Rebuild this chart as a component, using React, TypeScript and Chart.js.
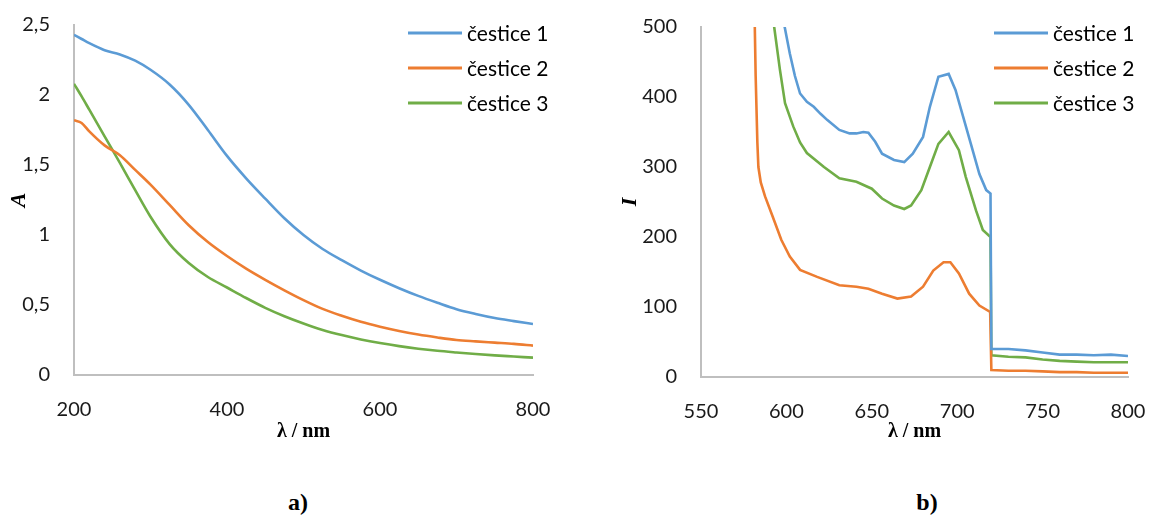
import React, { useEffect, useRef } from 'react';
import { Chart, registerables } from 'chart.js';

Chart.register(...registerables);

// ---------- Data: a) absorbance ----------
const seriesLabels = ['čestice 1', 'čestice 2', 'čestice 3'];
const seriesColors = ['#5B9BD5', '#ED7D31', '#70AD47'];

const absWavelength = [200, 210, 220, 240, 260, 280, 300, 325, 350, 375, 400, 425, 450, 475, 500, 525, 550, 575, 600, 625, 650, 675, 700, 725, 750, 775, 800];
const absParticle1 = [2.43, 2.40, 2.37, 2.32, 2.29, 2.245, 2.18, 2.075, 1.93, 1.75, 1.565, 1.405, 1.26, 1.12, 1.0, 0.9, 0.82, 0.746, 0.68, 0.62, 0.565, 0.516, 0.47, 0.436, 0.407, 0.385, 0.364];
const absParticle2 = [1.82, 1.80, 1.74, 1.64, 1.57, 1.465, 1.36, 1.215, 1.07, 0.95, 0.85, 0.76, 0.68, 0.605, 0.535, 0.472, 0.423, 0.38, 0.345, 0.315, 0.289, 0.268, 0.25, 0.24, 0.231, 0.222, 0.21];
const absParticle3 = [2.08, 1.99, 1.895, 1.705, 1.515, 1.32, 1.13, 0.935, 0.80, 0.70, 0.625, 0.55, 0.48, 0.42, 0.368, 0.322, 0.285, 0.254, 0.228, 0.206, 0.188, 0.173, 0.161, 0.15, 0.14, 0.132, 0.124];
const absYTicks = [0, 0.5, 1, 1.5, 2, 2.5];
const absXTicks = [200, 400, 600, 800];

// ---------- Data: b) intensity ----------
const flParticle1Wl = [597.5, 598.2, 602, 605, 608, 612, 616, 620, 624, 631, 637, 641, 645, 648, 652, 656, 663, 669, 674, 680, 684, 689, 695, 699, 703, 708, 713, 717, 719.5, 720, 730, 740, 750, 760, 770, 780, 790, 800];
const flParticle1I = [530, 510, 462, 430, 405, 393, 386, 376, 367, 353, 348, 348, 350, 349, 336, 319, 310, 307, 319, 343, 386, 429, 433, 410, 376, 333, 290, 267, 262, 40, 40, 38, 35, 32, 32, 31, 32, 30];

const flParticle2Wl = [581.2, 581.5, 582, 583, 583.6, 585, 587.5, 592, 597, 602, 608, 618, 631, 641, 648, 656, 665, 673, 680, 686, 692, 696, 701, 707, 713, 719.3, 720, 730, 740, 750, 760, 770, 780, 790, 800];
const flParticle2I = [560, 500, 430, 335, 300, 278, 258, 229, 196, 172, 153, 143, 131, 129, 126, 119, 112, 115, 129, 152, 164, 164, 148, 119, 102, 93, 10, 9, 9, 8, 7, 7, 6, 6, 6];

const flParticle3Wl = [591.8, 592.3, 596.2, 599.2, 604, 608, 612, 622, 631, 641, 650, 656, 663, 669, 673, 679, 684, 689, 695, 701, 705, 711, 715, 719.5, 720, 730, 740, 750, 760, 770, 780, 790, 800];
const flParticle3I = [530, 510, 439, 391, 358, 335, 320, 300, 284, 279, 269, 255, 245, 240, 245, 267, 300, 333, 350, 324, 286, 238, 210, 200, 31, 29, 28, 25, 23, 22, 21, 21, 21];
const flYTicks = [0, 100, 200, 300, 400, 500];
const flXTicks = [550, 600, 650, 700, 750, 800];

const tickFont = { family: 'Lato', size: 20 };
const tickColor = '#1a1a1a';
const axisColor = '#bfbfbf';

function legendPlugin(x0: number, y0: number) {
  return {
    id: 'customLegend',
    afterDraw(chart: any) {
      const ctx = chart.ctx;
      ctx.save();
      chart.data.datasets.forEach((ds: any, i: number) => {
        const y = y0 + i * 35;
        ctx.strokeStyle = ds.borderColor;
        ctx.lineWidth = 3;
        ctx.lineCap = 'butt';
        ctx.beginPath();
        ctx.moveTo(x0, y);
        ctx.lineTo(x0 + 54, y);
        ctx.stroke();
        ctx.fillStyle = '#000';
        ctx.font = '21px Lato';
        ctx.textBaseline = 'middle';
        ctx.textAlign = 'left';
        ctx.fillText(ds.label, x0 + 59, y + 1);
      });
      ctx.restore();
    },
  };
}

function makeOptions(cfg: {
  xMin: number; xMax: number; xStep: number; xTicks: number[];
  yMin: number; yMax: number; yStep: number; yTicks: number[];
  yWidth: number; xHeight: number; padTop: number; padRight: number;
  yTitle: string; yTitlePad: number; comma: boolean;
}) {
  return {
    responsive: false,
    animation: false as const,
    layout: { padding: { top: cfg.padTop, right: cfg.padRight, bottom: 0, left: 0 } },
    plugins: { legend: { display: false }, tooltip: { enabled: false } },
    elements: { point: { radius: 0 } },
    scales: {
      x: {
        type: 'linear' as const,
        min: cfg.xMin,
        max: cfg.xMax,
        afterFit: (s: any) => {
          s.height = cfg.xHeight;
          s.paddingLeft = 0; s.paddingRight = 0; s.paddingTop = 0; s.paddingBottom = 0;
        },
        afterBuildTicks: (s: any) => { s.ticks = cfg.xTicks.map((v) => ({ value: v })); },
        grid: { display: false, drawTicks: false },
        border: { display: true, color: axisColor, width: 2 },
        ticks: { stepSize: cfg.xStep, font: tickFont, color: tickColor, padding: 23, maxRotation: 0 },
        title: {
          display: true,
          text: 'λ / nm',
          color: '#000',
          font: { family: 'Liberation Serif', size: 20, weight: 'bold' as const, lineHeight: 1.2 },
          padding: { top: 0, bottom: 16 },
        },
      },
      y: {
        type: 'linear' as const,
        min: cfg.yMin,
        max: cfg.yMax,
        afterFit: (s: any) => {
          s.width = cfg.yWidth;
          s.paddingLeft = 0; s.paddingRight = 0; s.paddingTop = 0; s.paddingBottom = 0;
        },
        afterBuildTicks: (s: any) => { s.ticks = cfg.yTicks.map((v) => ({ value: v })); },
        grid: { display: false, drawTicks: false },
        border: { display: true, color: axisColor, width: 2 },
        ticks: {
          stepSize: cfg.yStep,
          font: tickFont,
          color: tickColor,
          padding: 24,
          callback: (v: any) => (cfg.comma ? String(v).replace('.', ',') : String(v)),
        },
        title: {
          display: true,
          text: cfg.yTitle,
          color: '#000',
          font: { family: 'Liberation Serif', size: 22, weight: 'bold' as const, style: 'italic' as const, lineHeight: 1.2 },
          padding: { top: cfg.yTitlePad, bottom: 0 },
        },
      },
    },
  };
}

function AbsChart() {
  const ref = useRef<HTMLCanvasElement | null>(null);
  useEffect(() => {
    if (!ref.current) return;
    const series = [absParticle1, absParticle2, absParticle3];
    const chart = new Chart(ref.current, {
      type: 'line',
      data: {
        datasets: series.map((vals, i) => ({
          label: seriesLabels[i],
          data: absWavelength.map((x, j) => ({ x, y: vals[j] })),
          borderColor: seriesColors[i],
          backgroundColor: seriesColors[i],
          borderWidth: 2.6,
          cubicInterpolationMode: 'monotone' as const,
          fill: false,
        })),
      },
      options: makeOptions({
        xMin: 200, xMax: 800, xStep: 200, xTicks: absXTicks,
        yMin: 0, yMax: 2.5, yStep: 0.5, yTicks: absYTicks,
        yWidth: 74, xHeight: 85, padTop: 25, padRight: 27,
        yTitle: 'A', yTitlePad: 6, comma: true,
      }) as any,
      plugins: [legendPlugin(408, 33)],
    });
    return () => chart.destroy();
  }, []);
  return <canvas ref={ref} width={560} height={460} style={{ position: 'absolute', left: 0, top: 0, width: 560, height: 460 }} />;
}

function FlChart() {
  const ref = useRef<HTMLCanvasElement | null>(null);
  useEffect(() => {
    if (!ref.current) return;
    const xs = [flParticle1Wl, flParticle2Wl, flParticle3Wl];
    const ys = [flParticle1I, flParticle2I, flParticle3I];
    const chart = new Chart(ref.current, {
      type: 'line',
      data: {
        datasets: xs.map((xArr, i) => ({
          label: seriesLabels[i],
          data: xArr.map((x, j) => ({ x, y: ys[i][j] })),
          borderColor: seriesColors[i],
          backgroundColor: seriesColors[i],
          borderWidth: 2.6,
          tension: 0,
          fill: false,
        })),
      },
      options: makeOptions({
        xMin: 550, xMax: 800, xStep: 50, xTicks: flXTicks,
        yMin: 0, yMax: 500, yStep: 100, yTicks: flYTicks,
        yWidth: 101, xHeight: 83, padTop: 27, padRight: 22,
        yTitle: 'I', yTitlePad: 17, comma: false,
      }) as any,
      plugins: [legendPlugin(394, 33)],
    });
    return () => chart.destroy();
  }, []);
  return <canvas ref={ref} width={550} height={460} style={{ position: 'absolute', left: 600, top: 0, width: 550, height: 460 }} />;
}

const panelLabelStyle: React.CSSProperties = {
  position: 'absolute',
  top: 502,
  transform: 'translate(-50%, -50%)',
  fontFamily: 'Liberation Serif',
  fontWeight: 'bold',
  fontSize: 24,
  color: '#000',
  lineHeight: 1,
};

export default function App() {
  return (
    <div style={{ position: 'fixed', left: 0, top: 0, width: 1150, height: 519, background: '#fff', overflow: 'hidden' }}>
      <AbsChart />
      <FlChart />
      <div style={{ ...panelLabelStyle, left: 298 }}>a)</div>
      <div style={{ ...panelLabelStyle, left: 927 }}>b)</div>
    </div>
  );
}
